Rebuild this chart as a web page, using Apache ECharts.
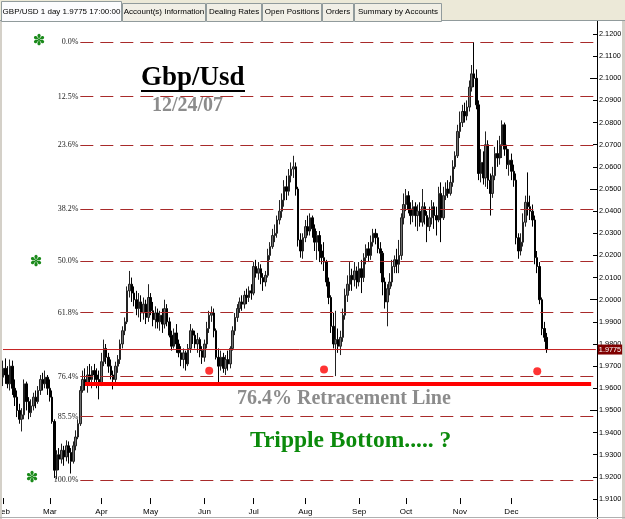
<!DOCTYPE html>
<html>
<head>
<meta charset="utf-8">
<script src="https://cdn.jsdelivr.net/npm/echarts@6/dist/echarts.min.js"></script>
<style>
    html, body { margin: 0; padding: 0; background: #fff; }
    #chart1 { width: 625px; height: 519px; }
</style>
</head>
<body>
<div id="chart1"></div>
<script>
// Daily bars, [open, close, low, high]
const feb = [
    [1.9650,1.9690,1.9610,1.9725],[1.9690,1.9660,1.9620,1.9735],[1.9660,1.9620,1.9600,1.9700],
    [1.9620,1.9700,1.9590,1.9730],[1.9700,1.9600,1.9570,1.9725],[1.9600,1.9560,1.9520,1.9640],
    [1.9560,1.9500,1.9470,1.9590],[1.9500,1.9460,1.9440,1.9530],[1.9460,1.9480,1.9405,1.9510],
    [1.9480,1.9620,1.9460,1.9640],[1.9620,1.9540,1.9500,1.9630],[1.9540,1.9490,1.9460,1.9560],
    [1.9490,1.9520,1.9470,1.9550],[1.9520,1.9560,1.9500,1.9580],[1.9560,1.9540,1.9510,1.9590],
    [1.9540,1.9590,1.9530,1.9610],[1.9590,1.9640,1.9570,1.9660],[1.9640,1.9620,1.9590,1.9670],
    [1.9620,1.9650,1.9600,1.9680],[1.9650,1.9600,1.9570,1.9660]
];
const mar = [
    [1.9600,1.9560,1.9540,1.9640],[1.9560,1.9450,1.9440,1.9590],[1.9450,1.9230,1.9195,1.9460],
    [1.9230,1.9300,1.9190,1.9320],[1.9300,1.9280,1.9230,1.9330],[1.9280,1.9320,1.9260,1.9350],
    [1.9320,1.9290,1.9250,1.9340],[1.9290,1.9340,1.9270,1.9365],[1.9340,1.9310,1.9260,1.9360],
    [1.9310,1.9270,1.9215,1.9330],[1.9270,1.9340,1.9260,1.9360],[1.9340,1.9380,1.9320,1.9410],
    [1.9380,1.9440,1.9370,1.9460],[1.9440,1.9590,1.9430,1.9610],[1.9590,1.9640,1.9580,1.9680],
    [1.9640,1.9620,1.9590,1.9690],[1.9620,1.9660,1.9580,1.9700],[1.9660,1.9640,1.9610,1.9710],
    [1.9640,1.9680,1.9600,1.9700],[1.9680,1.9660,1.9620,1.9710],[1.9660,1.9640,1.9600,1.9690],
    [1.9640,1.9620,1.9550,1.9680]
];
const apr = [
    [1.9620,1.9720,1.9610,1.9760],[1.9720,1.9780,1.9700,1.9820],[1.9780,1.9740,1.9710,1.9800],
    [1.9740,1.9700,1.9670,1.9760],[1.9700,1.9660,1.9640,1.9730],[1.9660,1.9640,1.9595,1.9680],
    [1.9640,1.9700,1.9620,1.9720],[1.9700,1.9730,1.9670,1.9750],[1.9730,1.9800,1.9710,1.9820],
    [1.9800,1.9860,1.9780,1.9880],[1.9860,1.9900,1.9840,1.9920],[1.9900,2.0040,1.9890,2.0060],
    [2.0040,2.0070,2.0010,2.0130],[2.0070,2.0030,1.9990,2.0100],[2.0030,2.0000,1.9970,2.0060],
    [2.0000,1.9960,1.9930,2.0040],[1.9960,1.9990,1.9920,2.0030],[1.9990,1.9940,1.9900,2.0020],
    [1.9940,1.9980,1.9910,2.0010],[1.9980,1.9920,1.9890,2.0000],[1.9920,2.0010,1.9900,2.0070]
];
const may = [
    [2.0010,1.9950,1.9930,2.0030],[1.9950,1.9910,1.9880,1.9990],[1.9910,1.9940,1.9870,1.9970],
    [1.9940,1.9900,1.9870,1.9960],[1.9900,1.9930,1.9860,1.9950],[1.9930,1.9890,1.9850,1.9960],
    [1.9890,1.9960,1.9870,2.0000],[1.9960,1.9900,1.9880,1.9980],[1.9900,1.9840,1.9830,1.9920],
    [1.9840,1.9790,1.9770,1.9860],[1.9790,1.9850,1.9780,1.9870],[1.9850,1.9800,1.9760,1.9890],
    [1.9800,1.9760,1.9740,1.9820],[1.9760,1.9730,1.9700,1.9790],[1.9730,1.9760,1.9690,1.9780],
    [1.9760,1.9710,1.9680,1.9770],[1.9710,1.9780,1.9700,1.9800],[1.9780,1.9860,1.9760,1.9890],
    [1.9860,1.9840,1.9800,1.9870],[1.9840,1.9800,1.9780,1.9860],[1.9800,1.9820,1.9760,1.9850],
    [1.9820,1.9770,1.9740,1.9830],[1.9770,1.9740,1.9710,1.9790]
];
const jun = [
    [1.9740,1.9800,1.9720,1.9820],[1.9800,1.9870,1.9780,1.9900],[1.9870,1.9930,1.9850,1.9950],
    [1.9930,1.9940,1.9900,1.9970],[1.9940,1.9860,1.9830,1.9960],[1.9860,1.9740,1.9730,1.9870],
    [1.9740,1.9700,1.9620,1.9780],[1.9700,1.9740,1.9680,1.9770],[1.9740,1.9690,1.9670,1.9760],
    [1.9690,1.9730,1.9660,1.9750],[1.9730,1.9710,1.9680,1.9770],[1.9710,1.9780,1.9690,1.9790],
    [1.9780,1.9860,1.9770,1.9880],[1.9860,1.9920,1.9840,1.9940],[1.9920,1.9960,1.9900,1.9980],
    [1.9960,1.9990,1.9940,2.0010],[1.9990,1.9980,1.9950,2.0020],[1.9980,2.0020,1.9960,2.0040],
    [2.0020,2.0010,1.9980,2.0050],[2.0010,2.0040,1.9990,2.0060],[2.0040,2.0030,2.0000,2.0070]
];
const jul = [
    [2.0030,2.0150,2.0020,2.0170],[2.0150,2.0120,2.0100,2.0180],[2.0120,2.0140,2.0090,2.0170],
    [2.0140,2.0100,2.0070,2.0160],[2.0100,2.0080,2.0040,2.0120],[2.0080,2.0110,2.0060,2.0130],
    [2.0110,2.0200,2.0100,2.0230],[2.0200,2.0240,2.0180,2.0260],[2.0240,2.0290,2.0230,2.0320],
    [2.0290,2.0300,2.0260,2.0340],[2.0300,2.0360,2.0280,2.0380],[2.0360,2.0400,2.0340,2.0450],
    [2.0400,2.0450,2.0370,2.0480],[2.0450,2.0510,2.0420,2.0540],[2.0510,2.0490,2.0450,2.0560],
    [2.0490,2.0560,2.0470,2.0590],[2.0560,2.0590,2.0530,2.0620],[2.0590,2.0600,2.0550,2.0650],
    [2.0600,2.0500,2.0470,2.0620],[2.0500,2.0270,2.0240,2.0510],[2.0270,2.0220,2.0190,2.0300],
    [2.0220,2.0280,2.0185,2.0300]
];
const aug = [
    [2.0280,2.0330,2.0260,2.0360],[2.0330,2.0310,2.0290,2.0380],[2.0310,2.0370,2.0290,2.0390],
    [2.0370,2.0320,2.0280,2.0380],[2.0320,2.0260,2.0220,2.0340],[2.0260,2.0290,2.0180,2.0310],
    [2.0290,2.0220,2.0170,2.0310],[2.0220,2.0190,2.0160,2.0250],[2.0190,2.0170,2.0130,2.0260],
    [2.0170,2.0080,2.0060,2.0180],[2.0080,2.0010,1.9980,2.0100],[2.0010,1.9880,1.9850,2.0020],
    [1.9880,1.9800,1.9780,1.9940],[1.9800,1.9820,1.9655,1.9950],[1.9820,1.9790,1.9760,1.9870],
    [1.9790,1.9830,1.9750,1.9860],[1.9830,1.9930,1.9810,1.9960],[1.9930,2.0020,1.9910,2.0050],
    [2.0020,2.0070,1.9990,2.0110],[2.0070,2.0110,2.0040,2.0170],[2.0110,2.0090,2.0040,2.0140],
    [2.0090,2.0130,2.0060,2.0170],[2.0130,2.0080,2.0050,2.0150]
];
const sep = [
    [2.0080,2.0140,2.0060,2.0170],[2.0140,2.0100,2.0030,2.0180],[2.0100,2.0190,2.0080,2.0210],
    [2.0190,2.0230,2.0160,2.0250],[2.0230,2.0200,2.0170,2.0260],[2.0200,2.0260,2.0180,2.0290],
    [2.0260,2.0300,2.0240,2.0320],[2.0300,2.0280,2.0250,2.0320],[2.0280,2.0230,2.0210,2.0300],
    [2.0230,2.0210,2.0120,2.0260],[2.0210,2.0080,2.0020,2.0220],[2.0080,1.9990,1.9960,2.0100],
    [1.9990,2.0050,1.9880,2.0070],[2.0050,2.0080,2.0020,2.0120],[2.0080,2.0150,2.0060,2.0180],
    [2.0150,2.0180,2.0120,2.0200],[2.0180,2.0160,2.0120,2.0230],[2.0160,2.0200,2.0120,2.0270],
    [2.0200,2.0370,2.0180,2.0390],[2.0370,2.0430,2.0340,2.0480]
];
const oct = [
    [2.0430,2.0470,2.0400,2.0500],[2.0470,2.0410,2.0390,2.0490],[2.0410,2.0380,2.0340,2.0440],
    [2.0380,2.0420,2.0350,2.0450],[2.0420,2.0380,2.0330,2.0440],[2.0380,2.0400,2.0310,2.0430],
    [2.0400,2.0350,2.0330,2.0440],[2.0350,2.0420,2.0330,2.0500],[2.0420,2.0380,2.0340,2.0440],
    [2.0380,2.0330,2.0260,2.0400],[2.0330,2.0370,2.0310,2.0420],[2.0370,2.0420,2.0340,2.0450],
    [2.0420,2.0380,2.0320,2.0440],[2.0380,2.0360,2.0290,2.0420],[2.0360,2.0480,2.0350,2.0510],
    [2.0480,2.0370,2.0260,2.0530],[2.0370,2.0470,2.0360,2.0510],[2.0470,2.0500,2.0450,2.0530],
    [2.0500,2.0480,2.0460,2.0540],[2.0480,2.0530,2.0470,2.0560],[2.0530,2.0600,2.0510,2.0630],
    [2.0600,2.0650,2.0590,2.0670],[2.0650,2.0760,2.0640,2.0790]
];
const nov = [
    [2.0760,2.0800,2.0730,2.0850],[2.0800,2.0850,2.0780,2.0880],[2.0850,2.0830,2.0800,2.0890],
    [2.0830,2.0870,2.0810,2.0900],[2.0870,2.0960,2.0850,2.0990],[2.0960,2.1020,2.0940,2.1060],
    [2.1020,2.1000,2.0960,2.1163],[2.1000,2.0880,2.0860,2.1040],[2.0880,2.0570,2.0540,2.0900],
    [2.0570,2.0620,2.0530,2.0680],[2.0620,2.0550,2.0520,2.0670],[2.0550,2.0700,2.0510,2.0760],
    [2.0700,2.0540,2.0500,2.0720],[2.0540,2.0480,2.0380,2.0570],[2.0480,2.0560,2.0460,2.0600],
    [2.0560,2.0660,2.0540,2.0690],[2.0660,2.0640,2.0600,2.0720],[2.0640,2.0700,2.0610,2.0740],
    [2.0700,2.0790,2.0640,2.0810],[2.0790,2.0680,2.0650,2.0800],[2.0680,2.0610,2.0590,2.0700],
    [2.0610,2.0630,2.0560,2.0680]
];
const dec = [
    [2.0630,2.0580,2.0540,2.0660],[2.0580,2.0540,2.0510,2.0610],[2.0540,2.0280,2.0250,2.0570],
    [2.0280,2.0220,2.0185,2.0300],[2.0220,2.0260,2.0200,2.0300],[2.0260,2.0350,2.0240,2.0390],
    [2.0350,2.0440,2.0330,2.0470],[2.0440,2.0420,2.0380,2.0575],[2.0420,2.0400,2.0360,2.0470],
    [2.0400,2.0360,2.0330,2.0430],[2.0360,2.0190,2.0160,2.0380],[2.0190,2.0150,2.0120,2.0220],
    [2.0150,2.0000,1.9980,2.0170],[2.0000,1.9870,1.9840,2.0010],[1.9870,1.9830,1.9810,1.9900],
    [1.9830,1.9775,1.9760,1.9850]
];

const monthNames = ['Jan','Feb','Mar','Apr','May','Jun','Jul','Aug','Sep','Oct','Nov','Dec'];
const firstDay = '2007-02-01';
const slots = 254;               // axis width counted in trading days, the chart leaves room after the last bar

const lastPrice = 1.9775;
const fibHigh = 2.1164;          // 0.0%
const fibLow = 1.9186;           // 100.0%
const fibPct = [0.0, 12.5, 23.6, 38.2, 50.0, 61.8, 76.4, 85.5, 100.0];
const fibStart = 33, fibEnd = 253;
const supportPrice = 1.9619, supportStart = 35, supportEnd = 251;
const dotIndex = [88, 137, 228];
const dotPrice = [1.9679, 1.9685, 1.9677];

const tabNames = ['GBP/USD 1 day 1.9775 17:00:00', 'Account(s) Information', 'Dealing Rates',
    'Open Positions', 'Orders', 'Summary by Accounts'];
const tabEdges = [1, 122, 206, 262, 322, 354, 442];

const ohlc = [].concat(feb, mar, apr, may, jun, jul, aug, sep, oct, nov, dec);

// weekday dates for the category axis
let dates = [];
let d = new Date(firstDay + 'T12:00:00Z');
while (dates.length < slots) {
    let wd = d.getUTCDay();
    if (wd !== 0 && wd !== 6) dates.push(d.toISOString().slice(0, 10));
    d.setUTCDate(d.getUTCDate() + 1);
}

function isMonthStart(index, value) {
    if (index >= ohlc.length) return false;
    if (index === 0) return true;
    return dates[index].slice(5, 7) !== dates[index - 1].slice(5, 7);
}

const fibColor = '#a82a2a';
let fibLines = [];
for (let p of fibPct) {
    let lvl = fibHigh - (fibHigh - fibLow) * p / 100;
    fibLines.push([
        {
            coord: [fibStart, lvl],
            lineStyle: { type: [13, 7], color: fibColor, width: 1 },
            label: {
                show: true, position: 'start', distance: 2, formatter: p.toFixed(1) + '%',
                fontFamily: 'Liberation Serif', fontSize: 8, color: '#222'
            }
        },
        { coord: [fibEnd, lvl] }
    ]);
}
fibLines.push([
    { coord: [supportStart, supportPrice], lineStyle: { type: 'solid', color: '#ff0000', width: 4 }, label: { show: false } },
    { coord: [supportEnd, supportPrice] }
]);

// window chrome: tab strip and borders
let graphics = [
    { type: 'rect', z: 100, shape: { x: 0, y: 0, width: 625, height: 21 }, style: { fill: '#ece9d8' } },
    { type: 'line', z: 101, shape: { x1: 0, y1: 20.5, x2: 625, y2: 20.5 }, style: { stroke: '#919b9c', lineWidth: 1 } }
];
for (let i = 0; i < tabNames.length; i++) {
    let x0 = tabEdges[i], x1 = tabEdges[i + 1];
    let top = i === 0 ? 1 : 3;
    graphics.push({
        type: 'rect', z: 101,
        shape: { x: x0 + 0.5, y: top + 0.5, width: x1 - x0 - 1, height: 21 - top },
        style: { fill: i === 0 ? '#fcfcfe' : '#f1efe6', stroke: '#919b9c', lineWidth: 1 }
    });
    graphics.push({
        type: 'text', z: 102, x: (x0 + x1) / 2, y: 12,
        style: {
            text: tabNames[i], fill: '#000', font: '8px "Liberation Sans"',
            textAlign: 'center', textVerticalAlign: 'middle'
        }
    });
}
graphics.push(
    { type: 'rect', z: 1, shape: { x: 0, y: 21, width: 2, height: 498 }, style: { fill: '#d4d0c8' } },
    { type: 'rect', z: 1, shape: { x: 622, y: 21, width: 3, height: 498 }, style: { fill: '#d4d0c8' } },
    { type: 'line', z: 1, shape: { x1: 0, y1: 517.5, x2: 625, y2: 517.5 }, style: { stroke: '#b0b0b0', lineWidth: 1 } },
    // annotations
    { type: 'text', z: 50, x: 141, y: 78, style: { text: 'Gbp/Usd', fill: '#000', font: 'bold 27px "Liberation Serif"', textVerticalAlign: 'middle' } },
    { type: 'rect', z: 50, shape: { x: 141, y: 90, width: 104, height: 2 }, style: { fill: '#000' } },
    { type: 'text', z: 50, x: 152, y: 106, style: { text: '12/24/07', fill: '#8c8c8c', font: 'bold 20px "Liberation Serif"', textVerticalAlign: 'middle' } },
    { type: 'text', z: 50, x: 237, y: 399, style: { text: '76.4% Retracement Line', fill: '#8c8c8c', font: 'bold 20px "Liberation Serif"', textVerticalAlign: 'middle' } },
    { type: 'text', z: 50, x: 250, y: 441, style: { text: 'Tripple Bottom..... ?', fill: '#0b8a0b', font: 'bold 23.5px "Liberation Serif"', textVerticalAlign: 'middle' } },
    { type: 'text', z: 50, x: 39, y: 41, style: { text: '\u273D', fill: '#1a8a1a', font: '15px "DejaVu Sans"', textAlign: 'center', textVerticalAlign: 'middle' } },
    { type: 'text', z: 50, x: 36, y: 262, style: { text: '\u273D', fill: '#1a8a1a', font: '15px "DejaVu Sans"', textAlign: 'center', textVerticalAlign: 'middle' } },
    { type: 'text', z: 50, x: 32, y: 478, style: { text: '\u273D', fill: '#1a8a1a', font: '15px "DejaVu Sans"', textAlign: 'center', textVerticalAlign: 'middle' } }
);

let chart1 = echarts.init(document.getElementById('chart1'));

let option = {
    animation: false,
    backgroundColor: '#fff',
    grid: { left: 1.83, right: 28, top: 11.86, bottom: -2.14, containLabel: false, outerBoundsMode: 'none' },
    xAxis: {
        type: 'category',
        data: dates,
        boundaryGap: true,
        offset: -23.1,
        axisLine: { show: false },
        axisTick: { show: true, alignWithLabel: true, length: 6, interval: isMonthStart, lineStyle: { color: '#000' } },
        axisLabel: {
            interval: isMonthStart, margin: 10, fontSize: 8, color: '#000', fontFamily: 'Liberation Sans',
            formatter: function (v) { return monthNames[parseInt(v.slice(5, 7), 10) - 1]; }
        },
        splitLine: { show: false }
    },
    yAxis: [
        {
            type: 'value', position: 'right', min: 1.90, max: 2.13, interval: 0.01,
            axisLine: { show: true, lineStyle: { color: '#000', width: 1 } },
            axisTick: { show: true, inside: true, length: 4, lineStyle: { color: '#000' } },
            axisLabel: {
                margin: 2, fontSize: 7.3, color: '#000', fontFamily: 'Liberation Sans',
                showMaxLabel: false, showMinLabel: false,
                formatter: function (v) { return v.toFixed(4); }
            },
            splitLine: { show: false }
        },
        {
            type: 'value', position: 'right', min: 1.90, max: 2.13, interval: 0.05,
            axisLine: { show: false },
            axisTick: { show: true, inside: true, length: 7, lineStyle: { color: '#000' } },
            axisLabel: { show: false },
            splitLine: { show: false }
        }
    ],
    series: [
        {
            name: 'GBP/USD',
            type: 'candlestick',
            data: ohlc,
            barWidth: 2,
            itemStyle: {
                color: '#707070', color0: '#000',
                borderColor: '#222', borderColor0: '#000', borderWidth: 1
            },
            markLine: {
                symbol: ['none', 'none'],
                silent: true,
                data: fibLines
            }
        },
        {
            name: 'last',
            type: 'line',
            data: [[0, lastPrice], [slots - 1, lastPrice]],
            showSymbol: false,
            symbol: 'none',
            silent: true,
            z: 3,
            lineStyle: { color: '#c41e1e', width: 1, type: 'solid' },
            endLabel: {
                show: true, distance: 2, formatter: lastPrice.toFixed(4),
                backgroundColor: '#800000', color: '#fff', fontSize: 7.3,
                fontFamily: 'Liberation Sans', padding: [2, 1, 1, 1]
            }
        },
        {
            name: 'lows',
            type: 'scatter',
            data: dotIndex.map((x, i) => [x, dotPrice[i]]),
            symbolSize: 8,
            itemStyle: { color: '#ff0000' },
            z: 5
        }
    ],
    graphic: graphics
};

chart1.setOption(option);
</script>
</body>
</html>
